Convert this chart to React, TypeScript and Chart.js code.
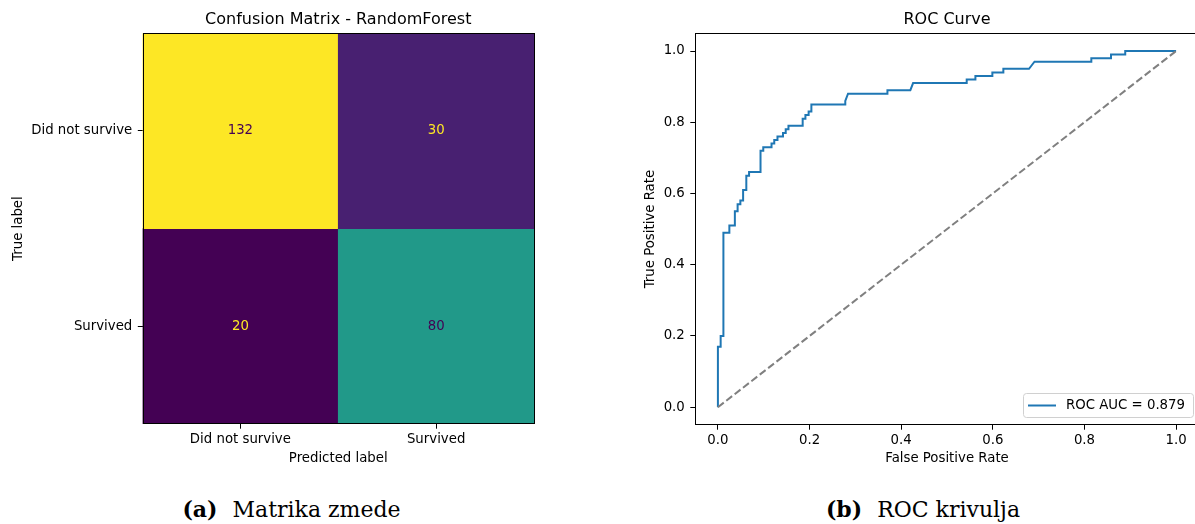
import React, { useEffect, useRef } from "react";
import { Chart, registerables } from "chart.js";

Chart.register(...registerables);

// ---------- data ----------
const classLabels = ["Did not survive", "Survived"];
const cmRowDidNotSurvive = [132, 30];
const cmRowSurvived = [20, 80];
const cmRows = [cmRowDidNotSurvive, cmRowSurvived];

const fpr = [
  0, 0, 0.006, 0.006, 0.012, 0.012, 0.025, 0.025, 0.037, 0.037, 0.043, 0.043,
  0.049, 0.049, 0.055, 0.055, 0.062, 0.062, 0.068, 0.068, 0.093, 0.093, 0.099,
  0.099, 0.117, 0.117, 0.123, 0.123, 0.13, 0.13, 0.142, 0.142, 0.148, 0.148,
  0.154, 0.154, 0.185, 0.185, 0.191, 0.191, 0.198, 0.198, 0.204, 0.204, 0.278,
  0.278, 0.284, 0.37, 0.37, 0.42, 0.426, 0.543, 0.543, 0.562, 0.562, 0.599,
  0.599, 0.623, 0.623, 0.679, 0.685, 0.691, 0.815, 0.815, 0.858, 0.858, 0.889,
  0.889, 1.0,
];
const tpr = [
  0, 0.17, 0.17, 0.2, 0.2, 0.49, 0.49, 0.51, 0.51, 0.55, 0.55, 0.57, 0.57,
  0.58, 0.58, 0.61, 0.61, 0.65, 0.65, 0.66, 0.66, 0.72, 0.72, 0.73, 0.73, 0.74,
  0.74, 0.75, 0.75, 0.76, 0.76, 0.77, 0.77, 0.78, 0.78, 0.79, 0.79, 0.81, 0.81,
  0.82, 0.82, 0.83, 0.83, 0.85, 0.85, 0.86, 0.88, 0.88, 0.89, 0.89, 0.91, 0.91,
  0.92, 0.92, 0.93, 0.93, 0.94, 0.94, 0.95, 0.95, 0.96, 0.97, 0.97, 0.98, 0.98,
  0.99, 0.99, 1.0, 1.0,
];
const chanceX = [0, 1];
const chanceY = [0, 1];
const rocLabel = "ROC AUC = 0.879";
const rocTicks = [0, 0.2, 0.4, 0.6, 0.8, 1.0];
const cmTitle = "Confusion Matrix - RandomForest";
const rocTitle = "ROC Curve";

// ---------- styles ----------
const FONT = "DejaVu Sans";
const viridisStops = [
  "#440154", "#482475", "#414487", "#355f8d", "#2a788e", "#21918c",
  "#22a884", "#44bf70", "#7ad151", "#bddf26", "#fde725",
];
function hexToRgb(h: string) {
  return [1, 3, 5].map((i) => parseInt(h.slice(i, i + 2), 16));
}
function viridis(t: number) {
  const c = Math.max(0, Math.min(1, t)) * (viridisStops.length - 1);
  const i = Math.min(Math.floor(c), viridisStops.length - 2);
  const f = c - i;
  const a = hexToRgb(viridisStops[i]);
  const b = hexToRgb(viridisStops[i + 1]);
  const m = a.map((v, k) => Math.round(v + (b[k] - v) * f));
  return `rgb(${m[0]},${m[1]},${m[2]})`;
}

const tickFont = { family: FONT, size: 13.3 };

const framePlugin = {
  id: "frame",
  afterDraw(chart: any) {
    const { ctx, chartArea: a } = chart;
    ctx.save();
    ctx.strokeStyle = "#000";
    ctx.lineWidth = 1;
    ctx.strokeRect(Math.round(a.left) + 0.5, Math.round(a.top) + 0.5, Math.round(a.right - a.left) - 1, Math.round(a.bottom - a.top) - 1);
    ctx.restore();
  },
};

// axes title, centred over the plotting area as in matplotlib
const areaTitlePlugin = {
  id: "areaTitle",
  afterDraw(chart: any, _args: any, opts: any) {
    const { ctx, chartArea: a } = chart;
    ctx.save();
    ctx.font = `16px "${FONT}"`;
    ctx.fillStyle = "#000";
    ctx.textAlign = "center";
    ctx.textBaseline = "middle";
    ctx.fillText(opts.text, (a.left + a.right) / 2, a.top - 13.5);
    ctx.restore();
  },
};

const cellTextPlugin = {
  id: "cellText",
  afterDatasetsDraw(chart: any) {
    const { ctx } = chart;
    const all = cmRows.flat();
    const mid = (Math.max(...all) + Math.min(...all)) / 2;
    ctx.save();
    ctx.font = `13.3px "${FONT}"`;
    ctx.textAlign = "center";
    ctx.textBaseline = "middle";
    chart.data.datasets.forEach((_ds: any, r: number) => {
      const meta = chart.getDatasetMeta(r);
      meta.data.forEach((el: any, c: number) => {
        const v = cmRows[r][c];
        ctx.fillStyle = v > mid ? viridis(0) : viridis(1);
        ctx.fillText(String(v), el.x, (el.y + el.base) / 2);
      });
    });
    ctx.restore();
  },
};

const rocLegendPlugin = {
  id: "rocLegend",
  afterDraw(chart: any) {
    const { ctx, chartArea: a } = chart;
    const ds = chart.data.datasets[0];
    ctx.save();
    ctx.font = `13.3px "${FONT}"`;
    const tw = ctx.measureText(ds.label).width;
    const w = 4.5 + 28 + 10 + tw + 8.5;
    const h = 24;
    const right = a.right - 5.5;
    const bottom = a.bottom - 7.5;
    const left = right - w;
    const top = bottom - h;
    ctx.beginPath();
    (ctx as any).roundRect(left, top, w, h, 3);
    ctx.fillStyle = "rgba(255,255,255,0.8)";
    ctx.fill();
    ctx.strokeStyle = "#d0d0d0";
    ctx.lineWidth = 1;
    ctx.stroke();
    const cy = top + h / 2;
    ctx.beginPath();
    ctx.moveTo(left + 4.5, cy);
    ctx.lineTo(left + 32.5, cy);
    ctx.strokeStyle = ds.borderColor;
    ctx.lineWidth = 2;
    ctx.stroke();
    ctx.fillStyle = "#000";
    ctx.textBaseline = "middle";
    ctx.textAlign = "left";
    ctx.fillText(ds.label, left + 42.5, cy + 0.5);
    ctx.restore();
  },
};

function ConfusionChart() {
  const ref = useRef<HTMLCanvasElement>(null);
  useEffect(() => {
    const all = cmRows.flat();
    const min = Math.min(...all);
    const max = Math.max(...all);
    const chart = new Chart(ref.current as HTMLCanvasElement, {
      type: "bar",
      data: {
        labels: classLabels,
        datasets: cmRows.map((row, r) => ({
          label: classLabels[r],
          data: row.map(() => [r - 0.5, r + 0.5]),
          backgroundColor: row.map((v) => viridis((v - min) / (max - min))),
          borderWidth: 0,
          barPercentage: 1,
          categoryPercentage: 1,
          grouped: false,
        })) as any,
      },
      options: {
        animation: false,
        responsive: false,
        devicePixelRatio: 1,
        layout: { padding: { left: 0, right: 66, top: 33.2, bottom: 0 } },
        plugins: {
          legend: { display: false },
          tooltip: { enabled: false },
          title: { display: false },
          areaTitle: { text: cmTitle },
        },
        scales: {
          x: {
            type: "category",
            offset: true,
            grid: { display: true, drawOnChartArea: false, drawTicks: true, tickLength: 4.7, color: "#000", offset: false },
            border: { display: false },
            ticks: { color: "#000", font: tickFont, padding: 3 },
            title: { display: true, text: "Predicted label", color: "#000", font: tickFont, padding: { top: 0, bottom: 13 } },
            afterFit: (s: any) => { s.height = 56; },
          },
          y: {
            type: "linear",
            min: -0.5,
            max: 1.5,
            reverse: true,
            afterBuildTicks: (s: any) => { s.ticks = classLabels.map((_, i) => ({ value: i })); },
            grid: { display: true, drawOnChartArea: false, drawTicks: true, tickLength: 4.7, color: "#000" },
            border: { display: false },
            ticks: { color: "#000", font: tickFont, padding: 5.5, callback: (v: any) => classLabels[v] },
            title: { display: true, text: "True label", color: "#000", font: tickFont, padding: { top: 10.3, bottom: 0 } },
            afterFit: (s: any) => { s.width = 142.5; },
          },
        },
      } as any,
      plugins: [cellTextPlugin, framePlugin, areaTitlePlugin],
    });
    return () => chart.destroy();
  }, []);
  return <canvas ref={ref} width={600} height={480} style={{ position: "absolute", left: 0, top: 0, width: 600, height: 480 }} />;
}

function RocChart() {
  const ref = useRef<HTMLCanvasElement>(null);
  useEffect(() => {
    const chart = new Chart(ref.current as HTMLCanvasElement, {
      type: "scatter",
      data: {
        datasets: [
          {
            label: rocLabel,
            data: fpr.map((x, i) => ({ x, y: tpr[i] })),
            showLine: true,
            borderColor: "#1f77b4",
            backgroundColor: "#1f77b4",
            borderWidth: 2,
            pointRadius: 0,
            tension: 0,
            order: 2,
          },
          {
            label: "chance",
            data: chanceX.map((x, i) => ({ x, y: chanceY[i] })),
            showLine: true,
            borderColor: "#808080",
            borderDash: [7.4, 3.2],
            borderWidth: 2,
            pointRadius: 0,
            tension: 0,
            order: 1,
          },
        ],
      },
      options: {
        animation: false,
        responsive: false,
        devicePixelRatio: 1,
        layout: { padding: { left: 0, right: 11, top: 33.2, bottom: 0 } },
        plugins: {
          legend: { display: false },
          tooltip: { enabled: false },
          title: { display: false },
          areaTitle: { text: rocTitle },
        },
        scales: {
          x: {
            type: "linear",
            min: -0.05,
            max: 1.05,
            afterBuildTicks: (s: any) => { s.ticks = rocTicks.map((v) => ({ value: v })); },
            grid: { display: true, drawOnChartArea: false, drawTicks: true, tickLength: 4.7, color: "#000" },
            border: { display: false },
            ticks: { color: "#000", font: tickFont, padding: 3, callback: (v: any) => Number(v).toFixed(1) },
            title: { display: true, text: "False Positive Rate", color: "#000", font: tickFont, padding: { top: 0, bottom: 13 } },
            afterFit: (s: any) => { s.height = 55; },
          },
          y: {
            type: "linear",
            min: -0.05,
            max: 1.05,
            afterBuildTicks: (s: any) => { s.ticks = rocTicks.map((v) => ({ value: v })); },
            grid: { display: true, drawOnChartArea: false, drawTicks: true, tickLength: 4.7, color: "#000" },
            border: { display: false },
            ticks: { color: "#000", font: tickFont, padding: 5.5, callback: (v: any) => Number(v).toFixed(1) },
            title: { display: true, text: "True Positive Rate", color: "#000", font: tickFont, padding: { top: 43, bottom: 0 } },
            afterFit: (s: any) => { s.width = 95; },
          },
        },
      } as any,
      plugins: [framePlugin, rocLegendPlugin, areaTitlePlugin],
    });
    return () => chart.destroy();
  }, []);
  return <canvas ref={ref} width={610} height={480} style={{ position: "absolute", left: 600, top: 0, width: 610, height: 480 }} />;
}

const captionStyle: React.CSSProperties = {
  position: "absolute",
  top: 496,
  fontFamily: '"DejaVu Serif", serif',
  fontSize: 22,
  lineHeight: "26px",
  textAlign: "center",
  color: "#000",
  whiteSpace: "nowrap",
};

export default function App() {
  return (
    <div style={{ position: "fixed", left: 0, top: 0, width: 1195, height: 524, overflow: "hidden", background: "#fff" }}>
      <ConfusionChart />
      <RocChart />
      <div style={{ ...captionStyle, left: 0, width: 583 }}>
        <b style={{ marginRight: 8 }}>(a)</b> Matrika zmede
      </div>
      <div style={{ ...captionStyle, left: 650, width: 546 }}>
        <b style={{ marginRight: 8 }}>(b)</b> ROC krivulja
      </div>
    </div>
  );
}
